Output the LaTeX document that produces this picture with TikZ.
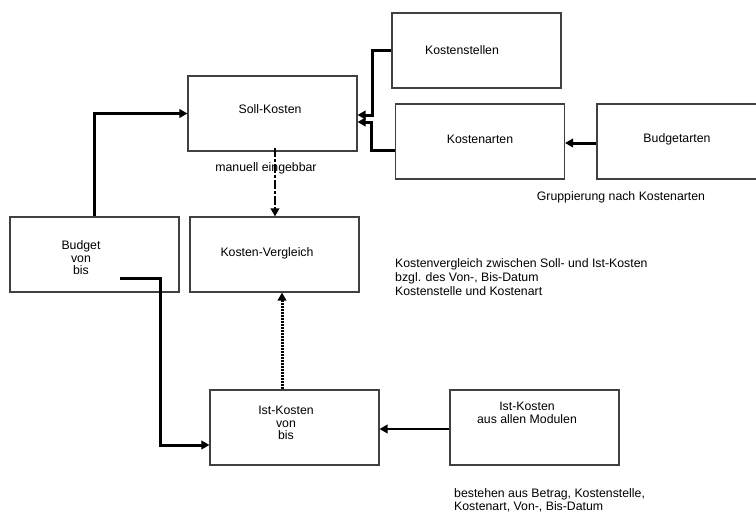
\documentclass[tikz,border=0pt]{standalone}
\usepackage{fontspec}
\setmainfont{Liberation Sans}
\usetikzlibrary{arrows.meta,calc}
\definecolor{boxline}{HTML}{404040}
\begin{document}
\begin{tikzpicture}[x=1pt,y=-1pt,
  font=\fontsize{12.3}{14.5}\selectfont,
  box/.style={draw=boxline,line width=1.1pt,minimum width=169pt,minimum height=75pt,inner sep=0pt},
  lbl/.style={inner sep=0pt,align=center},
  note/.style={inner sep=0pt,align=left,anchor=west},
  tip/.style={-{Triangle[length=8pt,width=8.5pt]}},
  thickarrow/.style={tip,line width=3pt},
  midarrow/.style={tip,line width=2.2pt}]
\useasboundingbox (0,0) rectangle (756,512);
% boxes
\node[box] (kst) at (476.5,50.5) {};
\node[box] (ka) at (480,141.5) {};
\node[box] (ba) at (681.5,141.5) {};
\node[box] (soll) at (272.5,113.5) {};
\node[box] (budget) at (94.5,254.5) {};
\node[box] (vgl) at (274.5,254.5) {};
\node[box] (ist) at (294.5,427.5) {};
\node[box] (mod) at (534.5,427.5) {};
% box texts
\node[lbl] (tkst) at (462,50) {Kostenstellen};
\node[lbl] (tka) at (480,139) {Kostenarten};
\node[lbl] (tba) at (677,139) {Budgetarten};
\node[lbl] (tsoll) at (270,109) {Soll-Kosten};
\node[lbl] (tbudget) at (81,258) {Budget\\[-2pt]von\\[-2pt]bis};
\node[lbl] (tvgl) at (267,253) {Kosten-Vergleich};
\node[lbl] (tist) at (286,423) {Ist-Kosten\\[-2pt]von\\[-2pt]bis};
\node[lbl] (tmod) at (527,413) {Ist-Kosten\\[-2pt]aus allen Modulen};
% notes
\node[lbl] (ngrp) at (621,197) {Gruppierung nach Kostenarten};
\node[lbl] (nman) at (266,168) {manuell eingebbar};
\node[note] (nvgl) at (395,277) {Kostenvergleich zwischen Soll- und Ist-Kosten\\[-0.5pt]bzgl. des Von-, Bis-Datum\\[-0.5pt]Kostenstelle und Kostenart};
\node[note] (nbest) at (454,500) {bestehen aus Betrag, Kostenstelle,\\[-1.5pt]Kostenart, Von-, Bis-Datum};
% connectors
\coordinate (bstart) at (120,278);
\coordinate (sstart) at (275,148);
\draw[thickarrow] (budget.north) |- (soll.west);
\draw[thickarrow] (bstart) -- ++(40,0) |- ([yshift=-17.5pt]ist.west);
\draw[thickarrow] (kst.west) -- ++(-19,0) |- ([yshift=-1.5pt]soll.east);
\draw[thickarrow] ([yshift=-8.5pt]ka.west) -- ++(-23,0) |- ([yshift=-8.5pt]soll.east);
\draw[thickarrow] ([yshift=-1.5pt]ba.west) -- ([yshift=-1.5pt]ka.east);
\draw[midarrow,dash pattern=on 9pt off 2pt on 3pt off 2pt] (sstart) -- (sstart |- vgl.north);
\draw[thickarrow,dash pattern=on 2pt off 1pt] ([xshift=-12.5pt]ist.north) -- ([xshift=-12.5pt]ist.north |- vgl.south);
\draw[midarrow] ([yshift=-1.5pt]mod.west) -- ([yshift=-1.5pt]ist.east);
\end{tikzpicture}
\end{document}
